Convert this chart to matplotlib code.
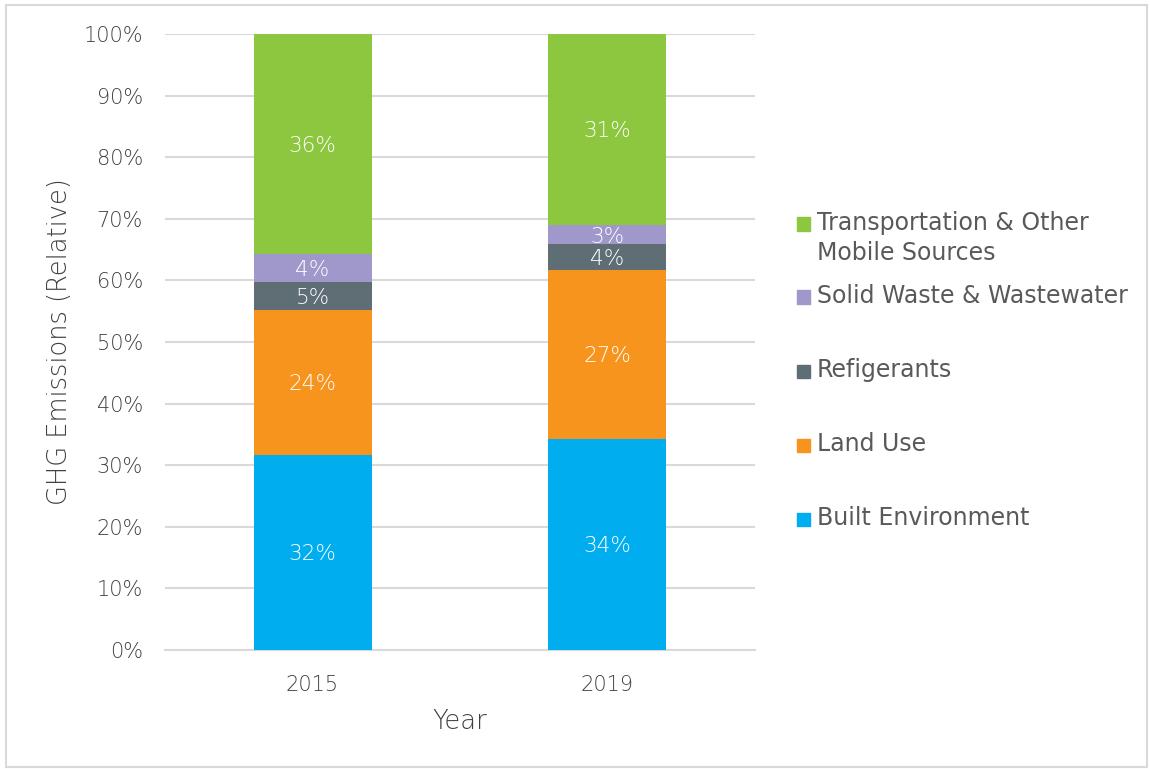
import matplotlib
matplotlib.use("Agg")
import matplotlib.pyplot as plt
from matplotlib.patches import Rectangle
import numpy as np

years = ["2015", "2019"]
categories = ["Built Environment", "Land Use", "Refigerants",
              "Solid Waste & Wastewater", "Transportation & Other\nMobile Sources"]
built = [31.7, 34.3]
land = [23.5, 27.4]
refrig = [4.5, 4.2]
waste = [4.6, 3.1]
transport = [35.7, 31.0]
labels_2015 = ["32%", "24%", "5%", "4%", "36%"]
labels_2019 = ["34%", "27%", "4%", "3%", "31%"]
colors = ["#00AEEF", "#F7941D", "#5F6E75", "#A097CB", "#8DC63F"]

series = [built, land, refrig, waste, transport]
bar_labels = [[labels_2015[i], labels_2019[i]] for i in range(5)]

plt.rcParams['font.family'] = ['DejaVu Sans']
plt.rcParams['font.weight'] = 'light'
txt = "#595959"
txt_light = "#404040"

fig = plt.figure(figsize=(11.5, 7.69), dpi=100)
ax = fig.add_axes([0.1435, 0.1547, 0.513, 0.8011])

x = np.arange(len(years))
bottom = np.zeros(len(years))
for vals, col, labs in zip(series, colors, bar_labels):
    vals = np.array(vals)
    ax.bar(x, vals, 0.4, bottom=bottom, color=col, zorder=3)
    for xi, b, v, lab in zip(x, bottom, vals, labs):
        ax.text(xi, b + v / 2, lab, ha="center", va="center_baseline", color="white",
                fontsize=15.5, zorder=4, fontweight="light")
    bottom += vals

ax.set_xlim(-0.5, 1.5)
ax.set_ylim(0, 100)
ax.set_yticks(np.arange(0, 101, 10))
ax.set_yticklabels([f"{v}%" for v in range(0, 101, 10)])
ax.set_xticks(x)
ax.set_xticklabels(years)
ax.tick_params(axis="both", length=0, labelsize=15, colors=txt_light)
ax.tick_params(axis="y", pad=16)
ax.tick_params(axis="x", pad=18)
ax.grid(axis="y", color="#D9D9D9", linewidth=1.5, zorder=0)
for s in ["top", "right", "left"]:
    ax.spines[s].set_visible(False)
ax.spines["bottom"].set_color("#D9D9D9")
ax.spines["bottom"].set_linewidth(1.5)
ax.set_xlabel("Year", fontsize=18.5, color=txt_light, labelpad=10, fontweight="light")
ax.set_ylabel("GHG Emissions (Relative)", fontsize=18.5, color=txt_light, labelpad=8,
              fontweight="light")

# legend (manual, top to bottom)
leg_y = [224, 297, 371, 445, 519]
order = [4, 3, 2, 1, 0]
for yy, idx in zip(leg_y, order):
    fy = 1 - yy / 769
    fig.patches.append(Rectangle((797 / 1150, fy - 6.5 / 769), 13 / 1150, 13 / 769,
                                 transform=fig.transFigure, color=colors[idx]))
    fig.text(817 / 1150, fy + 13 / 769, categories[idx], ha="left", va="top",
             fontsize=17, color=txt, linespacing=1.3, fontweight="normal")

# outer border
fig.patches.append(Rectangle((6 / 1150, 2 / 769), 1141 / 1150, 762 / 769,
                             transform=fig.transFigure, fill=False,
                             edgecolor="#D9D9D9", linewidth=1.5))

fig.savefig("out.png", dpi=100)
